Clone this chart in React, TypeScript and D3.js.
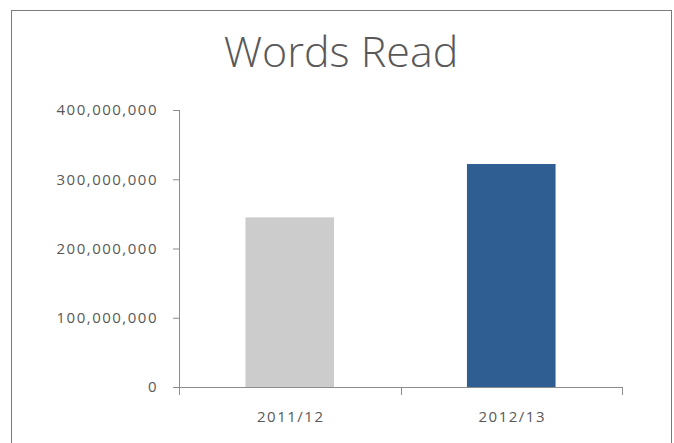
import React, { useEffect, useRef } from 'react';
import * as d3 from 'd3';

const categories = ['2011/12', '2012/13'];
const wordsRead = [245000000, 322000000];
const barColors = ['#cccccc', '#2f5f92'];
const yTicks = [0, 100000000, 200000000, 300000000, 400000000];

const W = 674;
const H = 443;

const App = () => {
  const svgRef = useRef<SVGSVGElement | null>(null);

  useEffect(() => {
    const svg = d3.select(svgRef.current);
    svg.selectAll('*').remove();

    const left = 179;
    const right = 622;
    const top = 110;
    const bottom = 387;

    // frame
    svg
      .append('rect')
      .attr('x', 11.5)
      .attr('y', 10.5)
      .attr('width', 660)
      .attr('height', 450)
      .attr('fill', '#fff')
      .attr('stroke', '#7a7a7a')
      .attr('stroke-width', 1);

    svg
      .append('text')
      .attr('x', 341)
      .attr('y', 67)
      .attr('text-anchor', 'middle')
      .attr('font-family', '"Open Sans", sans-serif')
      .attr('font-weight', 300)
      .attr('font-size', 43)
      .attr('fill', '#595959')
      .text('Words Read');

    const x = d3
      .scaleBand()
      .domain(categories)
      .range([left, right])
      .paddingInner(0.6)
      .paddingOuter(0.3);

    const y = d3.scaleLinear().domain([0, 400000000]).range([bottom, top]);

    const fmt = d3.format(',');

    const yAxis = svg
      .append('g')
      .attr('transform', `translate(${left},0)`)
      .call(
        d3
          .axisLeft(y)
          .tickValues(yTicks)
          .tickFormat((d) => fmt(d as number))
          .tickSize(6)
          .tickPadding(15)
      );
    yAxis.select('.domain').attr('stroke', '#8c8c8c').attr('d', `M0.5,${top}V${bottom}`);
    yAxis.selectAll('.tick line').attr('stroke', '#8c8c8c');
    yAxis
      .selectAll('.tick text')
      .attr('fill', '#595959')
      .attr('font-family', '"Open Sans", sans-serif')
      .attr('font-size', 15)
      .attr('letter-spacing', 1.5);

    // bars
    svg
      .selectAll('rect.bar')
      .data(categories)
      .enter()
      .append('rect')
      .attr('class', 'bar')
      .attr('x', (d) => x(d)!)
      .attr('y', (d, i) => y(wordsRead[i]))
      .attr('width', x.bandwidth())
      .attr('height', (d, i) => bottom - y(wordsRead[i]))
      .attr('fill', (d, i) => barColors[i]);

    // x axis with ticks at band boundaries
    const xg = svg.append('g').attr('transform', `translate(0,${bottom})`);
    xg.append('line')
      .attr('x1', left)
      .attr('x2', right)
      .attr('y1', 0.5)
      .attr('y2', 0.5)
      .attr('stroke', '#8c8c8c');
    const bounds = [left, (left + right) / 2, right];
    xg.selectAll('line.t')
      .data(bounds)
      .enter()
      .append('line')
      .attr('class', 't')
      .attr('x1', (d) => Math.round(d) + 0.5)
      .attr('x2', (d) => Math.round(d) + 0.5)
      .attr('y1', 0)
      .attr('y2', 8)
      .attr('stroke', '#8c8c8c');
    xg.selectAll('text')
      .data(categories)
      .enter()
      .append('text')
      .attr('x', (d) => x(d)! + x.bandwidth() / 2 + 1)
      .attr('y', 35)
      .attr('text-anchor', 'middle')
      .attr('fill', '#595959')
      .attr('font-family', '"Open Sans", sans-serif')
      .attr('font-size', 15)
      .attr('letter-spacing', 1.5)
      .text((d) => d);
  }, []);

  return (
    <svg
      ref={svgRef}
      width={W}
      height={H}
      style={{ position: 'absolute', left: 0, top: 0 }}
    ></svg>
  );
};

export default App;
